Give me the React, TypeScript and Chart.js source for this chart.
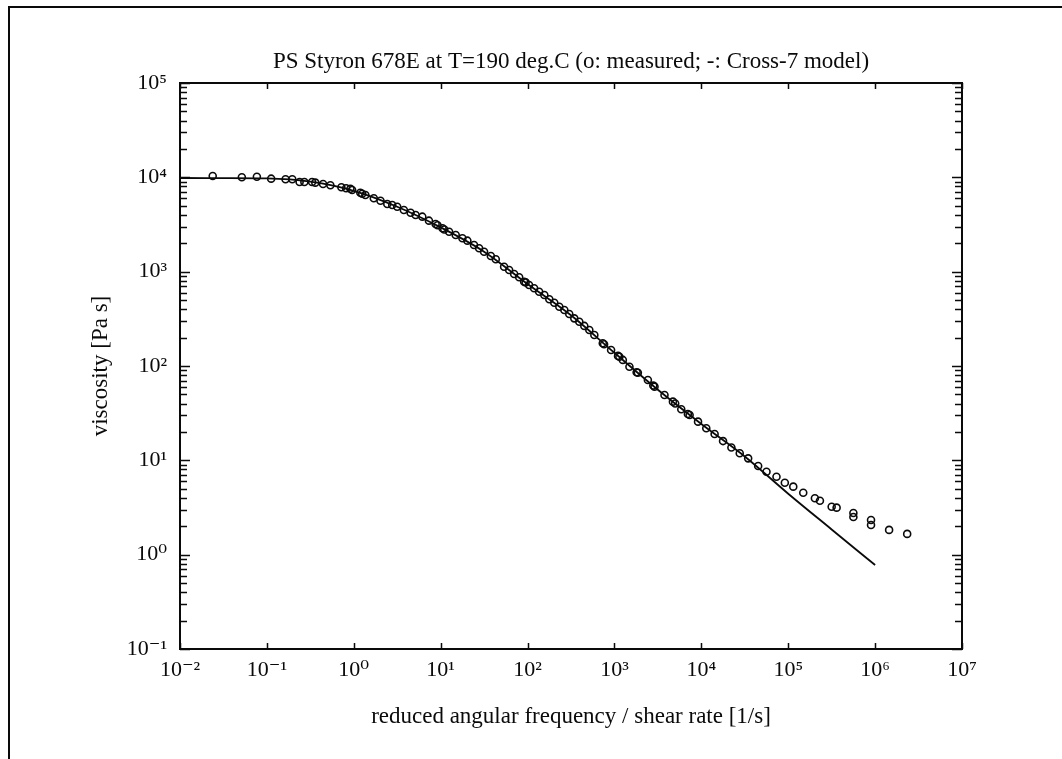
import React, { useEffect, useRef } from 'react';
import { Chart, registerables } from 'chart.js';

Chart.register(...registerables);

const TITLE = 'PS Styron 678E at T=190 deg.C (o: measured; -: Cross-7 model)';
const X_TITLE = 'reduced angular frequency / shear rate [1/s]';
const Y_TITLE = 'viscosity [Pa s]';

const X_TICKS = [0.01, 0.1, 1, 10, 100, 1000, 1e4, 1e5, 1e6, 1e7];
const X_TICK_LABELS = ['10⁻²', '10⁻¹', '10⁰', '10¹', '10²', '10³', '10⁴', '10⁵', '10⁶', '10⁷'];
const Y_TICKS = [0.1, 1, 10, 100, 1000, 1e4, 1e5];
const Y_TICK_LABELS = ['10⁻¹', '10⁰', '10¹', '10²', '10³', '10⁴', '10⁵'];
const Y_MINOR_MULTIPLIERS = [2, 3, 4, 5, 6, 7, 8, 9];

// measured viscosity (circles)
const MEASURED_X = [
  0.0238, 0.0515, 0.0767, 0.112, 0.164, 0.196, 0.238, 0.270, 0.331, 0.361, 0.443, 0.538, 0.720, 0.816, 0.915,
  0.957, 1.19, 1.25, 1.36, 1.70, 2.03, 2.43, 2.77, 3.16, 3.77, 4.51, 5.15, 6.15, 7.33, 8.75, 9.2, 10.5, 11.0, 12.5,
  14.9, 17.8, 20.3, 24.2, 27.7, 31.6, 37.8, 43.1,
  53.7, 61.4, 70.1, 80.1, 91.4, 95.0, 104, 119, 136, 156, 178, 203, 232, 265, 302, 345, 394, 450, 514, 587, 734,
  760, 915, 1100, 1140, 1249, 1488, 1800, 1860, 2425,
  2800, 2891, 3767, 4710, 5000, 5875, 7000, 7328, 9162, 11400, 14220, 17780, 22180, 27670, 34590, 45080, 56230,
  73280, 91410, 114300, 148900,
  202800, 231700, 316200, 360600, 562300, 562300, 897500, 897500, 1449000, 2339000,
];
const MEASURED_Y = [
  10330, 10010, 10160, 9680, 9535, 9535, 8930, 8930, 8930, 8780, 8500, 8235, 7845, 7655, 7580,
  7340, 6875, 6700, 6500, 6000, 5655, 5218, 5090, 4886, 4508, 4220, 3990, 3828, 3472, 3203, 3100, 2884, 2800, 2653,
  2448, 2259, 2131, 1918, 1770, 1628, 1466, 1353,
  1129, 1042, 945, 872, 783, 770, 723, 666, 613, 566, 510, 469, 425, 393, 356, 320, 295, 266, 241, 213, 174,
  170, 148, 128, 125.5, 116, 98.3, 86, 84.9, 71.1,
  62, 60.4, 49.3, 41.9, 40, 34.8, 31, 30.2, 25.7, 21.9, 19.0, 16.0, 13.7, 11.9, 10.5, 8.71, 7.58,
  6.71, 5.79, 5.26, 4.54,
  3.96, 3.73, 3.22, 3.15, 2.77, 2.51, 2.33, 2.06, 1.83, 1.66,
];

// Cross-7 model curve (solid line)
const MODEL_X = [0.01, 0.0316, 0.1, 0.316, 1, 3.16, 10, 31.6, 100, 316, 1000, 3160, 10000, 31600, 100000, 316000, 1000000];
const MODEL_Y = [9840, 9820, 9750, 9000, 7200, 4880, 2950, 1630, 740, 345, 138, 56, 24.3, 11.0, 4.43, 1.85, 0.776];

const FONT_FAMILY = '"Liberation Serif", "Times New Roman", "DejaVu Serif", serif';
const INK = '#0a0a0a';

function labelFor(ticks: number[], labels: string[], value: number): string {
  const i = ticks.findIndex((t) => Math.abs(Math.log10(t) - Math.log10(value)) < 1e-6);
  return i >= 0 ? labels[i] : '';
}

const framePlugin = {
  id: 'frameTicks',
  afterDatasetsDraw(chart: any) {
    const { ctx, chartArea: a, scales } = chart;
    const x = scales.x;
    const y = scales.y;
    ctx.save();
    ctx.strokeStyle = INK;
    ctx.lineWidth = 2;
    ctx.strokeRect(a.left, a.top, a.right - a.left, a.bottom - a.top);
    ctx.lineWidth = 1.5;
    ctx.beginPath();
    X_TICKS.forEach((v) => {
      const px = Math.round(x.getPixelForValue(v)) + 0.5;
      ctx.moveTo(px, a.bottom);
      ctx.lineTo(px, a.bottom - 6);
      ctx.moveTo(px, a.top);
      ctx.lineTo(px, a.top + 6);
    });
    Y_TICKS.forEach((v) => {
      const py = Math.round(y.getPixelForValue(v)) + 0.5;
      ctx.moveTo(a.left, py);
      ctx.lineTo(a.left + 10, py);
      ctx.moveTo(a.right, py);
      ctx.lineTo(a.right - 10, py);
    });
    Y_TICKS.slice(0, -1).forEach((d) => {
      Y_MINOR_MULTIPLIERS.forEach((m) => {
        const py = Math.round(y.getPixelForValue(d * m)) + 0.5;
        ctx.moveTo(a.left, py);
        ctx.lineTo(a.left + 7, py);
        ctx.moveTo(a.right, py);
        ctx.lineTo(a.right - 7, py);
      });
    });
    ctx.stroke();
    // outer page frame
    ctx.lineWidth = 2;
    ctx.beginPath();
    ctx.moveTo(9, 759);
    ctx.lineTo(9, 7);
    ctx.lineTo(1062, 7);
    ctx.stroke();
    ctx.restore();
  },
};

export default function App() {
  const canvasRef = useRef<HTMLCanvasElement | null>(null);

  useEffect(() => {
    const canvas = canvasRef.current;
    if (!canvas) return;
    const font = { family: FONT_FAMILY, size: 23, weight: 'normal' as const };
    const tickFont = { family: FONT_FAMILY, size: 22, weight: 'normal' as const };
    const chart = new Chart(canvas, {
      type: 'scatter',
      data: {
        datasets: [
          {
            label: 'Cross-7 model',
            type: 'line',
            data: MODEL_X.map((xv, i) => ({ x: xv, y: MODEL_Y[i] })),
            borderColor: INK,
            borderWidth: 1.8,
            pointRadius: 0,
            fill: false,
            tension: 0.4,
            cubicInterpolationMode: 'monotone',
          } as any,
          {
            label: 'measured',
            data: MEASURED_X.map((xv, i) => ({ x: xv, y: MEASURED_Y[i] })),
            borderColor: INK,
            backgroundColor: 'rgba(0,0,0,0)',
            borderWidth: 1.6,
            pointRadius: 3.5,
            pointStyle: 'circle',
            showLine: false,
          },
        ],
      },
      options: {
        responsive: false,
        animation: false,
        layout: { padding: { left: 0, right: 100, top: 0, bottom: 0 } },
        plugins: {
          legend: { display: false },
          tooltip: { enabled: false },
          title: {
            display: true,
            text: TITLE,
            fullSize: false,
            color: INK,
            font,
            padding: { top: 48, bottom: 7.4 },
          },
        },
        scales: {
          x: {
            type: 'logarithmic',
            position: 'bottom',
            min: 0.01,
            max: 1e7,
            grid: { display: false, drawTicks: false },
            border: { display: false },
            afterBuildTicks: (s: any) => {
              s.ticks = X_TICKS.map((v) => ({ value: v }));
            },
            afterFit: (s: any) => {
              s.height = 110;
            },
            ticks: {
              autoSkip: false,
              maxRotation: 0,
              padding: 8,
              color: INK,
              font: tickFont,
              callback: (v: any) => labelFor(X_TICKS, X_TICK_LABELS, Number(v)),
            },
            title: {
              display: true,
              text: X_TITLE,
              color: INK,
              font,
              padding: { top: 0, bottom: 28 },
            },
          },
          y: {
            type: 'logarithmic',
            position: 'left',
            min: 0.1,
            max: 1e5,
            grid: { display: false, drawTicks: false },
            border: { display: false },
            afterBuildTicks: (s: any) => {
              s.ticks = Y_TICKS.map((v) => ({ value: v }));
            },
            afterFit: (s: any) => {
              s.width = 180;
            },
            ticks: {
              autoSkip: false,
              padding: 13,
              color: INK,
              font: tickFont,
              callback: (v: any) => labelFor(Y_TICKS, Y_TICK_LABELS, Number(v)),
            },
            title: {
              display: true,
              text: Y_TITLE,
              color: INK,
              font,
              padding: { top: 87, bottom: 0 },
            },
          },
        },
      },
      plugins: [framePlugin],
    });
    return () => chart.destroy();
  }, []);

  return (
    <div style={{ position: 'fixed', left: 0, top: 0, width: 1062, height: 759, background: '#ffffff' }}>
      <canvas ref={canvasRef} width={1062} height={759} style={{ display: 'block' }} />
    </div>
  );
}
